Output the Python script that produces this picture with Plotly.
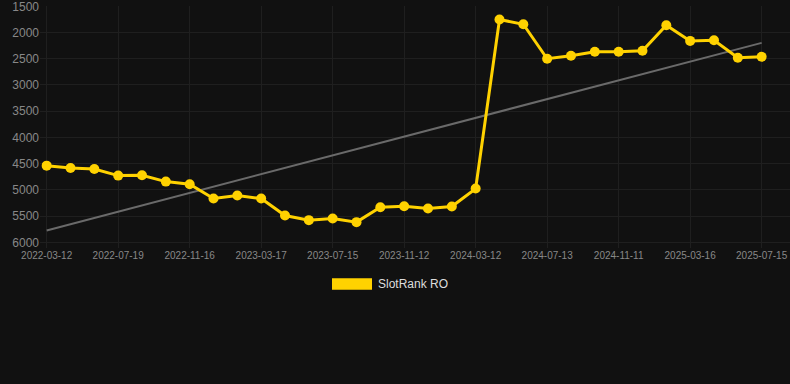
import plotly.graph_objects as go

dates = [
    "2022-03-12", "2022-04-24", "2022-06-06", "2022-07-19", "2022-08-28", "2022-10-07",
    "2022-11-16", "2022-12-26", "2023-02-04", "2023-03-17", "2023-04-26", "2023-06-05",
    "2023-07-15", "2023-08-24", "2023-10-03", "2023-11-12", "2023-12-22", "2024-01-31",
    "2024-03-12", "2024-04-22", "2024-06-02", "2024-07-13", "2024-08-22", "2024-10-02",
    "2024-11-11", "2024-12-22", "2025-02-02", "2025-03-16", "2025-04-25", "2025-06-05",
    "2025-07-15",
]
ranks = [
    4538, 4582, 4601, 4728, 4722, 4842, 4893, 5165, 5108, 5165, 5488, 5577,
    5545, 5615, 5330, 5311, 5355, 5317, 4975, 1753, 1842, 2500, 2443, 2367,
    2367, 2348, 1861, 2159, 2146, 2481, 2462,
]
tick_labels = ["2022-03-12", "2022-07-19", "2022-11-16", "2023-03-17", "2023-07-15",
               "2023-11-12", "2024-03-12", "2024-07-13", "2024-11-11", "2025-03-16",
               "2025-07-15"]
y_ticks = [1500, 2000, 2500, 3000, 3500, 4000, 4500, 5000, 5500, 6000]
trend_x = [dates[0], dates[-1]]
trend_y = [5773, 2197]
series_name = "SlotRank RO"

GOLD = "#FFD200"
BG = "#111111"
GRID = "#1f1f1f"

fig = go.Figure()
fig.add_trace(go.Scatter(
    x=trend_x, y=trend_y, mode="lines",
    line=dict(color="#6a6a6a", width=2), showlegend=False, hoverinfo="skip",
))
fig.add_trace(go.Scatter(
    x=dates, y=ranks, mode="lines+markers", name=series_name,
    line=dict(color=GOLD, width=3), marker=dict(color=GOLD, size=10),
    showlegend=False,
))

# legend swatch + label
fig.add_shape(type="rect", xref="paper", yref="paper",
              x0=(332 - 40) / 750, x1=(372 - 40) / 750,
              y0=(248 - 289.7) / 242, y1=(248 - 278.3) / 242,
              fillcolor=GOLD, line=dict(width=0))
fig.add_annotation(xref="paper", yref="paper",
                   x=(376 - 40) / 750, y=(248 - 284) / 242,
                   text=series_name, showarrow=False, xanchor="left", yanchor="middle",
                   font=dict(family="Liberation Sans, Arial", size=12, color="#dddddd"))

fig.update_layout(
    width=790, height=384,
    margin=dict(l=40, r=0, t=6, b=136),
    paper_bgcolor=BG, plot_bgcolor=BG,
    font=dict(family="Liberation Sans, Arial", color="#888888"),
    showlegend=False,
    xaxis=dict(
        type="category", categoryorder="array", categoryarray=dates,
        range=[-0.28, 31.19],
        tickvals=tick_labels, ticktext=tick_labels,
        tickfont=dict(size=10, color="#888888"),
        showgrid=True, gridcolor=GRID, gridwidth=1,
        zeroline=False, showline=False, ticks="",
    ),
    yaxis=dict(
        range=[6108, 1494],
        tickvals=y_ticks,
        tickfont=dict(size=12, color="#888888"),
        ticklabeloverflow="allow",
        showgrid=True, gridcolor=GRID, gridwidth=1,
        zeroline=False, showline=False, ticks="",
    ),
)

fig.write_html(
    "out.html",
    config={"displayModeBar": False},
    post_script="document.body.style.margin='0';document.body.style.background='#111111';",
)
